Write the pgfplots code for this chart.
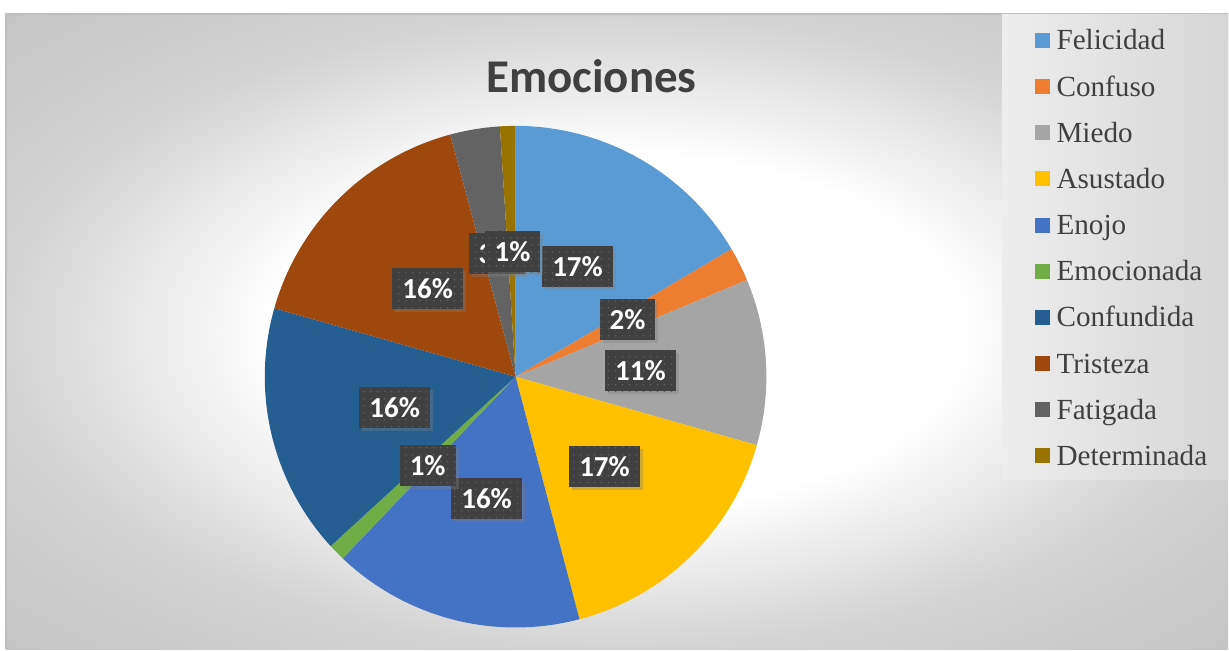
\documentclass[border=0pt]{standalone}
\usepackage{pgfplots}
\pgfplotsset{compat=1.18}
\usepackage{pgfplotstable}
\usepackage{fontspec}
\setmainfont{Liberation Serif}
\newfontfamily\calibri{Carlito}
\usetikzlibrary{patterns.meta,shadows}

\definecolor{c0}{HTML}{5B9BD5}
\definecolor{c1}{HTML}{ED7D31}
\definecolor{c2}{HTML}{A5A5A5}
\definecolor{c3}{HTML}{FFC000}
\definecolor{c4}{HTML}{4472C4}
\definecolor{c5}{HTML}{70AD47}
\definecolor{c6}{HTML}{255E91}
\definecolor{c7}{HTML}{9E480E}
\definecolor{c8}{HTML}{636363}
\definecolor{c9}{HTML}{997300}
\definecolor{txtgray}{HTML}{404040}
\definecolor{lblbg}{HTML}{404040}
\definecolor{lbldot}{HTML}{5E5E5E}
\definecolor{bgmid}{HTML}{D3D3D3}
\definecolor{bgout}{HTML}{C4C4C4}
\definecolor{edge}{HTML}{BFBFBF}
\definecolor{legl}{HTML}{EDEDED}
\definecolor{legr}{HTML}{D6D6D6}

\pgfdeclareradialshading{chartbg}{\pgfpoint{0bp}{0bp}}{%
  color(0bp)=(white); color(14bp)=(white); color(25bp)=(bgmid);
  color(36bp)=(bgout); color(50bp)=(bgout)}

\tikzset{
  lbl/.style={fill=lblbg,
    postaction={pattern={Dots[radius=0.45pt,distance=3.5pt]}, pattern color=lbldot},
    drop shadow={shadow xshift=1.5pt, shadow yshift=-1.5pt, opacity=0.35},
    text=white, font=\calibri\bfseries\fontsize{14.5}{16}\selectfont,
    inner xsep=5pt, inner ysep=0pt, minimum height=20.5pt},
}

% value = share in percent, pct = printed label, lx/ly = label centre (px from top-left)
\pgfplotstableread[col sep=comma]{
name,value,pct,lx,ly
Felicidad,16.5,17,578,267
Confuso,2.2,2,628,320
Miedo,10.7,11,641,371
Asustado,16.5,17,605,467
Enojo,16.2,16,487,499
Emocionada,1.1,1,428,466
Confundida,16.2,16,395,408
Tristeza,16.4,16,428,289
Fatigada,3.2,3,497,254
Determinada,1.0,1,513,252
}\emotions

\begin{document}
\begin{tikzpicture}
\def\cum{0}
\pgfplotsforeachungrouped \i in {0,...,9}{%
  \pgfplotstablegetelem{\i}{value}\of\emotions
  \pgfmathsetmacro\nxt{\cum+\pgfplotsretval}%
  \pgfmathsetmacro\tmpa{90-3.6*\cum}%
  \pgfmathsetmacro\tmpb{90-3.6*\nxt}%
  \expandafter\xdef\csname sa\i\endcsname{\tmpa}%
  \expandafter\xdef\csname ea\i\endcsname{\tmpb}%
  \xdef\cum{\nxt}%
  \pgfplotstablegetelem{\i}{name}\of\emotions
  \expandafter\xdef\csname nm\i\endcsname{\pgfplotsretval}%
  \pgfplotstablegetelem{\i}{pct}\of\emotions
  \expandafter\xdef\csname pc\i\endcsname{\pgfplotsretval}%
  \pgfplotstablegetelem{\i}{lx}\of\emotions
  \expandafter\xdef\csname lx\i\endcsname{\pgfplotsretval}%
  \pgfplotstablegetelem{\i}{ly}\of\emotions
  \pgfmathsetmacro\tmpy{650-\pgfplotsretval}%
  \expandafter\xdef\csname ly\i\endcsname{\tmpy}%
}
\begin{axis}[
    x=0.5pt, y=0.5pt,
    xmin=0, xmax=1229, ymin=0, ymax=650,
    hide axis, clip=false,
]
% chart area
\fill[white] (axis cs:0,0) rectangle (axis cs:1229,650);
\shade[shading=chartbg] (axis cs:6,0) rectangle (axis cs:1229,636);
\draw[edge, line width=1pt] (axis cs:6,0) -- (axis cs:6,636) -- (axis cs:1229,636);
\shade[left color=legl, right color=legr] (axis cs:1003,170) rectangle (axis cs:1229,635);

% wedges, clockwise from 12 o'clock
\pgfplotsinvokeforeach{0,...,9}{
  \fill[c#1] (axis cs:516,273) -- ++(\csname sa#1\endcsname:125.5pt)
    arc[start angle=\csname sa#1\endcsname, end angle=\csname ea#1\endcsname, radius=125.5pt] -- cycle;
}

% data labels
\pgfplotsinvokeforeach{0,...,9}{
  \node[lbl] at (axis cs:\csname lx#1\endcsname,\csname ly#1\endcsname) {\csname pc#1\endcsname\%};
}

% legend
\pgfplotsinvokeforeach{0,...,9}{
  \fill[c#1] (axis cs:1036,{650-33-46.2*#1}) rectangle ++(7.5pt,-7.5pt);
  \node[anchor=base west, inner sep=0pt, text=txtgray, font=\fontsize{14.6}{16}\selectfont]
    at (axis cs:1057,{650-50-46.2*#1}) {\csname nm#1\endcsname};
}

\node[anchor=base, text=txtgray, font=\calibri\bfseries\fontsize{23.5}{28}\selectfont]
  at (axis cs:592,557) {Emociones};
\end{axis}
\end{tikzpicture}
\end{document}
